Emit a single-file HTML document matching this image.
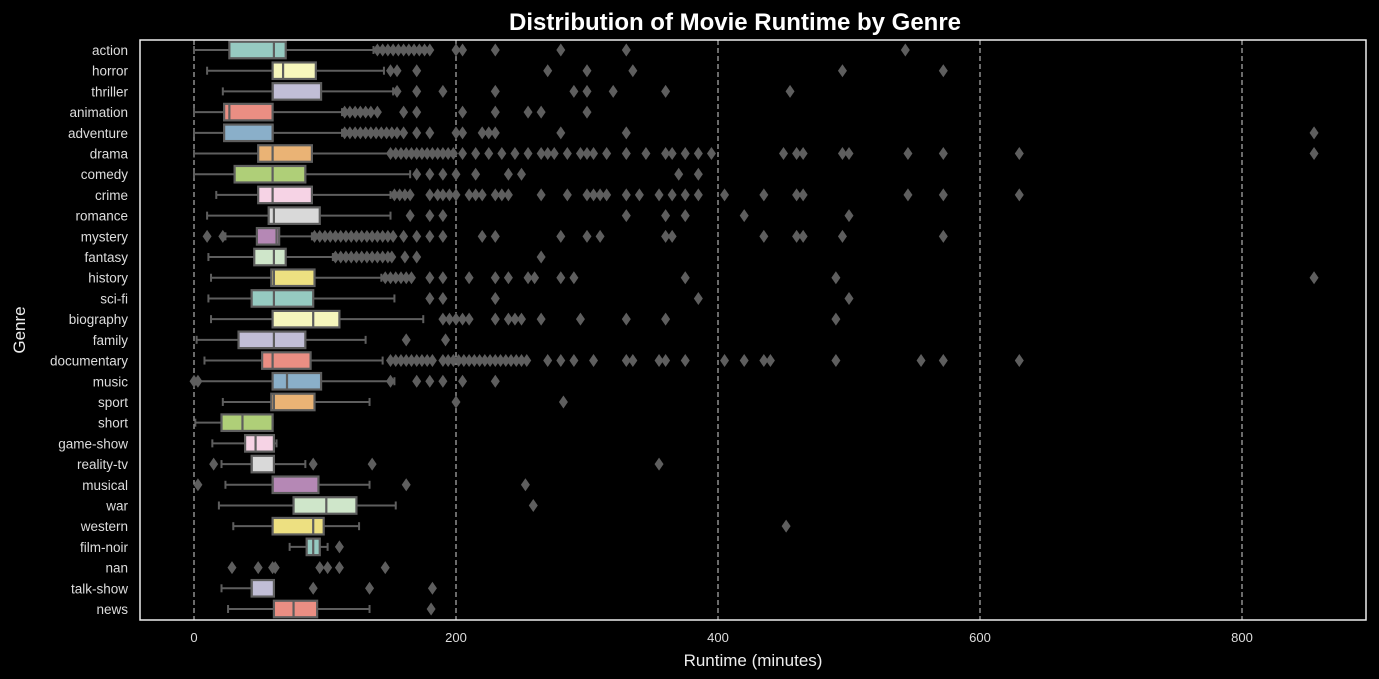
<!DOCTYPE html>
<html><head><meta charset="utf-8"><style>
body{margin:0;background:#000;}
svg{display:block;font-family:"Liberation Sans",sans-serif;}
</style></head><body>
<svg id="chart" width="1379" height="679" viewBox="0 0 1379 679">
<rect x="0" y="0" width="1379" height="679" fill="#000"/>
<text x="735" y="30" text-anchor="middle" fill="#fff" font-size="24" font-weight="bold">Distribution of Movie Runtime by Genre</text>
<text x="753" y="666" text-anchor="middle" fill="#eee" font-size="17">Runtime (minutes)</text>
<text transform="translate(25,330) rotate(-90)" text-anchor="middle" fill="#eee" font-size="17">Genre</text>
<g id="plot"></g>
</svg>
<script>
const genres=["action","horror","thriller","animation","adventure","drama","comedy","crime","romance","mystery","fantasy","history","sci-fi","biography","family","documentary","music","sport","short","game-show","reality-tv","musical","war","western","film-noir","nan","talk-show","news"];
const lows=[0,10,22,0,0,0,0,17,10,24,11,13,11,13,2,8,3,22,1,14,21,24,19,30,73,null,21,26];
const q1s=[27,60,60,23,23,49,31,49,57,48,46,59,44,60,34,52,60,59,21,39,44,60,76,60,86,null,44,61];
const meds=[61,68,60,27,60,60,60,60,61,63,61,61,61,91,61,60,71,61,37,47,44,60,101,91,91,null,44,76];
const q3s=[70,93,97,60,60,90,85,90,96,65,70,92,91,111,85,89,97,92,60,61,61,95,124,99,96,null,61,94];
const highs=[137,145,152,113,113,150,165,150,150,90,106,143,153,175,131,144,153,134,60,63,85,134,154,126,102,null,61,134];
const outliers=[
[140,144,148,152,156,160,164,168,172,176,180,200,205,230,280,330,543],
[150,155,170,270,300,335,495,572],
[155,170,190,230,290,300,320,360,455],
[115,119,123,127,131,135,140,160,170,205,230,255,265,300],
[115,119,123,127,131,135,139,143,147,151,155,160,170,180,200,205,220,225,230,280,330,855],
[150,154,158,162,166,170,174,178,182,186,190,194,198,205,215,225,235,245,255,265,270,275,285,295,300,305,315,330,345,360,365,375,385,395,450,460,465,495,500,545,572,630,855],
[170,180,190,200,215,240,250,370,385],
[153,157,161,165,180,186,190,195,200,210,215,220,230,235,240,265,285,300,305,310,315,330,340,355,365,375,385,405,435,460,465,545,572,630],
[165,180,190,330,360,375,420,500],
[10,22,92,96,100,104,108,112,116,120,124,128,132,136,140,144,148,152,160,170,180,190,220,230,280,300,310,360,365,435,460,465,495,572],
[108,112,116,120,124,128,132,136,140,144,148,151,161,170,265],
[146,150,154,158,162,166,180,190,210,230,240,255,260,280,290,375,490,855],
[180,190,230,385,500],
[190,195,200,205,210,230,240,245,250,265,295,330,360,490],
[162,192],
[150,154,158,162,166,170,174,178,182,190,194,198,202,206,210,214,218,222,226,230,234,238,242,246,250,254,270,280,290,305,330,335,355,360,375,405,420,435,440,490,555,572,630],
[0,3,150,170,180,190,205,230],
[200,282],
[],
[],
[15,91,136,355],
[3,162,253],
[259],
[452],
[111],
[29,49,60,62,96,102,111,146],
[91,134,182],
[181]];
const palette=["#8dd3c7","#ffffb3","#bebada","#fb8072","#80b1d3","#fdb462","#b3de69","#fccde5","#d9d9d9","#bc80bd","#ccebc5","#ffed6f"];
const xTicks=[0,200,400,600,800];

function desat(hex,f){
  let r=parseInt(hex.slice(1,3),16)/255,g=parseInt(hex.slice(3,5),16)/255,b=parseInt(hex.slice(5,7),16)/255;
  const mx=Math.max(r,g,b),mn=Math.min(r,g,b),l=(mx+mn)/2;
  r=l+(r-l)*f;g=l+(g-l)*f;b=l+(b-l)*f;
  const h=v=>Math.round(Math.min(1,Math.max(0,v))*255).toString(16).padStart(2,'0');
  return '#'+h(r)+h(g)+h(b);
}
const NS="http://www.w3.org/2000/svg";
const L=140,R=1366,T=40,B=620;
const xs=v=>194+v*1.31;
const ys=i=>50+i*(559/27);
const g=document.getElementById('plot');
function mk(tag,attrs,parent){const e=document.createElementNS(NS,tag);for(const k in attrs)e.setAttribute(k,attrs[k]);(parent||g).appendChild(e);return e;}
const edge="#5e5e5e";
xTicks.forEach(t=>{
  const l=mk('line',{x1:xs(t),x2:xs(t),y1:T,y2:B,stroke:"#b0b0b0","stroke-width":1.2,"stroke-dasharray":"5,3"});
  
  
  const tx=mk('text',{x:xs(t),y:B+22,"text-anchor":"middle",fill:"#ddd","font-size":13});
  tx.textContent=t;
  
  
});
genres.forEach((name,i)=>{
  const y=ys(i);
  const lab=mk('text',{x:128,y:y+5,"text-anchor":"end",fill:"#ddd","font-size":13.5});
  lab.textContent=name;
  
  
  const grp=mk('g',{});
  
  
  const h=16.5;
  if(lows[i]!==null){
    mk('line',{x1:xs(lows[i]),x2:xs(q1s[i]),y1:y,y2:y,stroke:edge,"stroke-width":2},grp);
    mk('line',{x1:xs(q3s[i]),x2:xs(highs[i]),y1:y,y2:y,stroke:edge,"stroke-width":2},grp);
    mk('line',{x1:xs(lows[i]),x2:xs(lows[i]),y1:y-4,y2:y+4,stroke:edge,"stroke-width":2},grp);
    mk('line',{x1:xs(highs[i]),x2:xs(highs[i]),y1:y-4,y2:y+4,stroke:edge,"stroke-width":2},grp);
    mk('rect',{x:xs(q1s[i]),y:y-h/2,width:Math.max(1,xs(q3s[i])-xs(q1s[i])),height:h,fill:desat(palette[i%12],0.75),stroke:edge,"stroke-width":2.2},grp);
    mk('line',{x1:xs(meds[i]),x2:xs(meds[i]),y1:y-h/2,y2:y+h/2,stroke:edge,"stroke-width":2.2},grp);
  }
  outliers[i].forEach(v=>{
    const cx=xs(v);
    const d=mk('path',{d:`M${cx} ${y-6.5}L${cx+4.5} ${y}L${cx} ${y+6.5}L${cx-4.5} ${y}Z`,fill:edge},grp);
    
    
  });
});
const fr=mk('rect',{x:L,y:T,width:R-L,height:B-T,fill:"none",stroke:"#eee","stroke-width":1.5});


</script>
</body></html>
